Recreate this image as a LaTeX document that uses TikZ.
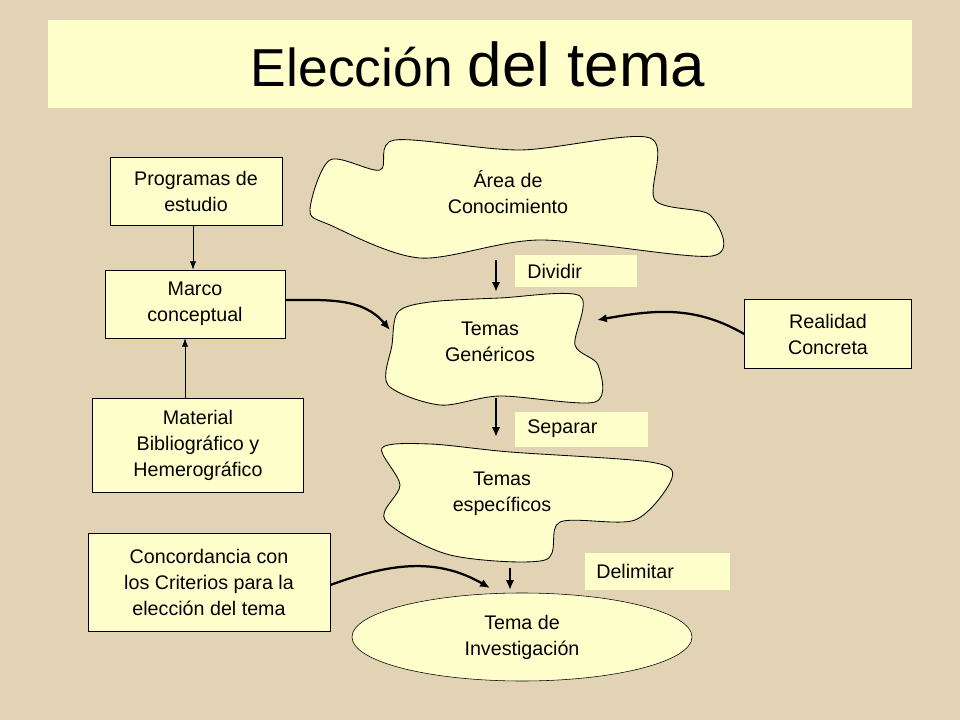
\documentclass[tikz,border=0pt]{standalone}
\usepackage{fontspec}
\setmainfont{Liberation Sans}
\usetikzlibrary{arrows.meta, shapes.geometric, positioning}
\definecolor{paper}{HTML}{E2D3B4}
\definecolor{cream}{HTML}{FFFFCC}
\begin{document}
\begin{tikzpicture}[x=0.025cm, y=-0.025cm,
    box/.style={draw, fill=cream, align=center, font=\fontsize{14}{18.5}\selectfont},
    tag/.style={fill=cream, anchor=west, font=\fontsize{14}{16}\selectfont, inner sep=0pt},
    blob/.style={draw, fill=cream, line width=0.6pt},
    arr/.style={-{Latex[length=7pt,width=6pt]}, line width=1.6pt},
    txt/.style={align=center, font=\fontsize{14}{18.5}\selectfont}]
  % background and title
  \fill[paper] (0,0) rectangle (960,720);
  \useasboundingbox (0,0) rectangle (960,720);
  \fill[cream] (48,20) rectangle (912,108);
  \node (title) at (478,64) {\fontsize{38}{44}\selectfont Elección \fontsize{44}{44}\selectfont del tema};
  % clouds
  \draw[blob] plot[smooth cycle, tension=0.5] coordinates {(330,160) (380,170) (395,140) (520,150) (650,138) (655,200) (710,215) (712,256) (540,240) (420,258) (330,225) (310,210)};
  \draw[blob] plot[smooth cycle, tension=0.5] coordinates {(398,312) (430,302) (500,298) (580,296) (575,345) (598,365) (595,402) (500,396) (440,405) (388,385) (392,345)};
  \draw[blob] plot[smooth cycle, tension=0.5] coordinates {(382,448) (430,444) (510,452) (650,462) (672,478) (635,520) (560,522) (545,560) (450,555) (385,520) (400,485)};
  \node[txt] (area) at (508,192) {Área de\\Conocimiento};
  \node[txt] (gen) at (490,342) {Temas\\Genéricos};
  \node[txt] (esp) at (502,494) {Temas\\específicos};
  \node[draw, ellipse, fill=cream, txt, minimum width=340*0.025cm, minimum height=88*0.025cm] (inv) at (522,637) {Tema de\\Investigación};
  % boxes
  \node[box, minimum width=172*0.025cm, minimum height=68*0.025cm] (prog) at (196,191) {Programas de\\estudio};
  \node[box, minimum width=180*0.025cm, minimum height=68*0.025cm] (marco) at (195,304) {Marco\\conceptual};
  \node[box, minimum width=211*0.025cm, minimum height=94*0.025cm] (mat) at (198,445) {Material\\Bibliográfico y\\Hemerográfico};
  \node[box, minimum width=242*0.025cm, minimum height=98*0.025cm] (conc) at (209,582) {Concordancia con\\los Criterios para la\\elección del tema};
  \node[box, minimum width=167*0.025cm, minimum height=69*0.025cm] (real) at (828,334) {Realidad\\Concreta};
  % labels
  \fill[cream] (515,255) rectangle (637,287);
  \node[tag] (div) at (527,271) {Dividir};
  \fill[cream] (515,412) rectangle (648,447);
  \node[tag] (sep) at (527,429) {Separar};
  \fill[cream] (585,553) rectangle (730,590);
  \node[tag] (del) at (596,571) {Delimitar};
  % arrows
  \coordinate (a1) at (496,260); \coordinate (a2) at (496,292);
  \coordinate (b1) at (496,398); \coordinate (b2) at (496,437);
  \coordinate (c1) at (510,568); \coordinate (c2) at (510,590);
  \draw[arr] (a1) -- (a2);
  \draw[arr] (b1) -- (b2);
  \draw[arr] (c1) -- (c2);
  \draw[-{Latex[length=6pt]}, line width=0.6pt] (prog.south -| 193,0) -- (marco.north -| 193,0);
  \draw[-{Latex[length=6pt]}, line width=0.6pt] (mat.north -| 185,0) -- (marco.south -| 185,0);
  \coordinate (g1) at (390,330); \coordinate (g2) at (597,320); \coordinate (e1) at (490,588);
  \draw[arr] (marco.east |- 0,300) to[out=0, in=130] (g1);
  \draw[arr] (real.west) to[out=150, in=10] (g2);
  \draw[arr] (conc.east |- 0,585) to[out=20, in=150] (e1);
\end{tikzpicture}
\end{document}
